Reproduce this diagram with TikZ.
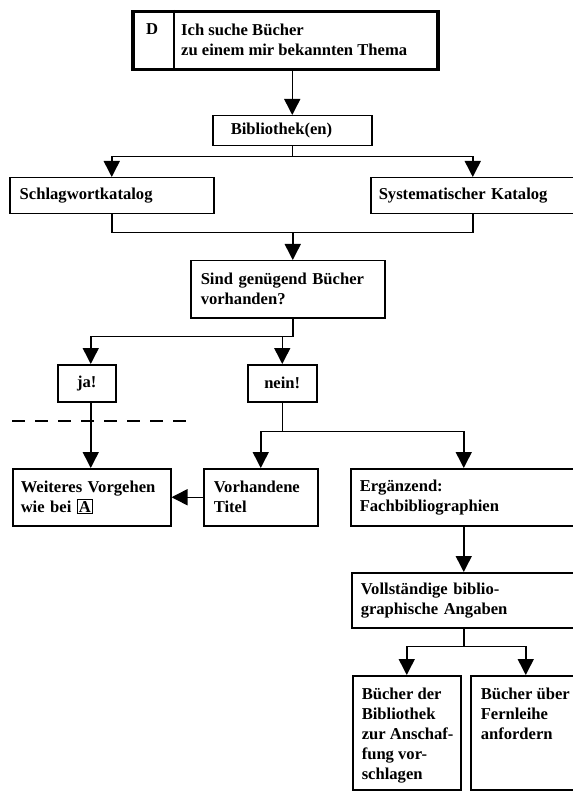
\documentclass[tikz,border=0pt]{standalone}
\usepackage{fontspec}
\setmainfont{Liberation Serif}
\usetikzlibrary{arrows.meta}
\newcommand{\kastenA}[1]{{\fboxsep=0.8pt\fboxrule=1.1pt\fbox{#1}}}
\begin{document}
\begin{tikzpicture}[x=1pt,y=-1pt,
  font=\fontsize{16.6pt}{20pt}\selectfont\bfseries,
  box/.style={draw,line width=1.5pt,anchor=north west,inner ysep=0pt,align=left},
  tallbox/.style={draw,line width=1.5pt,anchor=north west,inner ysep=0pt},
  ln/.style={line width=1.5pt},
  arr/.style={line width=1.5pt,-{Triangle[length=16pt,width=16pt]}},
  sepline/.style={line width=1.2pt,dash pattern=on 13pt off 10pt}]
\fill[white] (0,0) rectangle (572,791);
\useasboundingbox (0,0) rectangle (572,791);

% title box
\node[draw,line width=3.5pt,anchor=north west,inner sep=0pt,minimum width=305pt,minimum height=58pt] (top) at (131,10) {};
\draw[line width=1.8pt] ([xshift=43pt]top.north west) -- ([xshift=43pt]top.south west);
\node[anchor=base,inner sep=0pt] (dlab) at (152,35) {D};
\node[anchor=north west,inner sep=0pt,align=left] (title) at (181,23.5) {Ich suche Bücher\\zu einem mir bekannten Thema};

% boxes
\node[box,minimum width=159pt,minimum height=30pt,text width=123pt,inner xsep=18pt] (bib) at (212,115) {Bibliothek(en)};
\node[box,minimum width=204pt,minimum height=36pt,text width=184pt,inner xsep=10pt] (schlag) at (9,177) {Schlagwortkatalog};
\node[box,minimum width=204pt,minimum height=36pt,text width=188pt,inner xsep=8pt] (sys) at (370,177) {Systematischer Katalog};
\node[box,minimum width=194pt,minimum height=57pt,text width=174pt,inner xsep=10pt] (sind) at (190,260) {Sind genügend Bücher\\vorhanden?};
\node[box,align=center,minimum width=58pt,minimum height=37pt,text width=40pt,inner xsep=9pt] (ja) at (57,364) {ja!};
\node[box,align=center,minimum width=69pt,minimum height=37pt,text width=51pt,inner xsep=9pt] (nein) at (247,364) {nein!};
\node[box,minimum width=158pt,minimum height=57pt,text width=142pt,inner xsep=8pt] (weit) at (12,468) {Weiteres Vorgehen\\wie bei \kastenA{A}};
\node[box,minimum width=114pt,minimum height=57pt,text width=94pt,inner xsep=10pt] (vorh) at (203,468) {Vorhandene\\Titel};
\node[box,minimum width=226pt,minimum height=57pt,text width=208pt,inner xsep=9pt] (erg) at (350,468) {Ergänzend:\\Fachbibliographien};
\node[box,minimum width=228pt,minimum height=55pt,text width=210pt,inner xsep=9pt] (voll) at (351,572) {Vollständige biblio-\\graphische Angaben};
\node[tallbox,inner xsep=9pt] (bd) at (352,675) {\parbox[c][114pt][t]{90pt}{\raggedright\vspace*{12pt}\mbox{Bücher der}\\\mbox{Bibliothek}\\\mbox{zur Anschaf-}\\\mbox{fung vor-}\\\mbox{schlagen}}};
\node[tallbox,inner xsep=10pt] (bu) at (470,675) {\parbox[c][114pt][t]{90pt}{\raggedright\vspace*{12pt}\mbox{Bücher über}\\\mbox{Fernleihe}\\\mbox{anfordern}}};

% connectors
\draw[arr] (top.south -| bib.north) -- (bib.north);
\draw[ln] (bib.south) -- ++(0,10) coordinate (j0);
\draw[arr] (j0) -| (schlag.north);
\draw[arr] (j0) -| (sys.north);
\draw[ln] (schlag.south) -- ++(0,18) coordinate (j1) -| (sys.south);
\coordinate (sindin) at ([xshift=5pt]sind.north);
\draw[arr] (j1 -| sindin) -- (sindin);
\draw[ln] (sindin |- sind.south) -- ++(0,18) coordinate (j2);
\coordinate (jain) at ([xshift=4pt]ja.north);
\draw[arr] (j2) -| (jain);
\draw[arr] (j2 -| nein.north) -- (nein.north);
\coordinate (jaout) at ([xshift=4pt]ja.south);
\draw[arr] (jaout) -- (jaout |- weit.north);
\draw[ln] (nein.south) -- ++(0,29) coordinate (j3);
\draw[arr] (j3) -| (vorh.north);
\draw[arr] (j3) -| (erg.north);
\draw[arr] (vorh.west) -- (weit.east);
\draw[arr] (erg.south) -- (erg.south |- voll.north);
\draw[ln] (erg.south |- voll.south) -- ++(0,18) coordinate (j4);
\draw[arr] (j4) -| (bd.north);
\draw[arr] (j4) -| (bu.north);

% dashed separator
\coordinate (dl) at (12,421);
\coordinate (dr) at (188,421);
\draw[sepline] (dl) -- (dr);
\end{tikzpicture}
\end{document}
